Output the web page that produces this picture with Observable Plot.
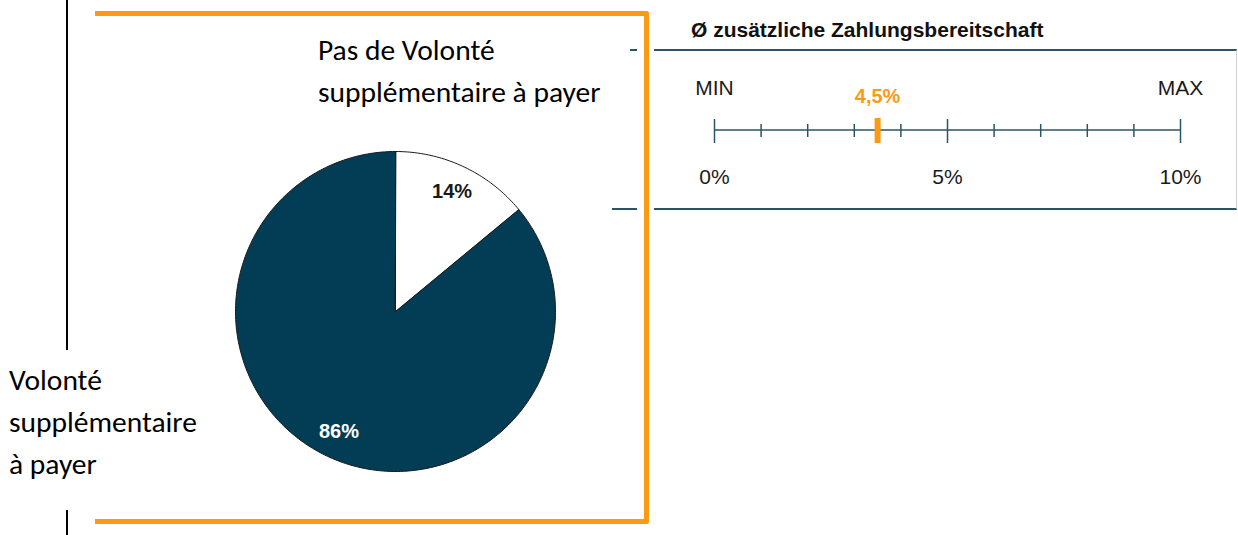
<!DOCTYPE html>
<html><head><meta charset="utf-8">
<script src="https://cdn.jsdelivr.net/npm/d3@7"></script>
<script src="https://cdn.jsdelivr.net/npm/@observablehq/plot@0.6"></script>
<style>
html,body{margin:0;padding:0;background:#fff;}
#root{position:relative;width:1238px;height:535px;overflow:hidden;background:#fff;}
.abs{position:absolute;}
.cal{font-family:Carlito,Calibri,Lato,"Open Sans",sans-serif;font-size:29.5px;color:#000;line-height:42px;white-space:nowrap;}
.arial{font-family:"Liberation Sans",Arial,sans-serif;}
</style></head><body><div id="root"></div>
<script>
// ---- data ----
const categories = ["Pas de Volonté supplémentaire à payer", "Volonté supplémentaire à payer"];
const shares = [14, 86];
const shareLabels = ["14%", "86%"];
const sliceColors = ["#ffffff", "#033d55"];
const labelColors = ["#1a1a1a", "#ffffff"];
const scaleTicks = [0, 1, 2, 3, 4, 5, 6, 7, 8, 9, 10];
const majorTicks = [0, 5, 10];
const tickLabels = ["0%", "5%", "10%"];
const endLabels = ["MIN", "MAX"];
const endValues = [0, 10];
const average = 3.5;
const averageLabel = "4,5%";
const title = "Ø zusätzliche Zahlungsbereitschaft";
const topLabelLines = ["Pas de Volonté", "supplémentaire à payer"];
const leftLabelLines = ["Volonté", "supplémentaire", "à payer"];

// ---- style ----
const orange = "#fd9a14";
const teal = "#2b5566";
const root = document.getElementById("root");
function div(cls, css, html) {
  const d = document.createElement("div");
  d.className = cls;
  d.style.cssText = css;
  if (html != null) d.innerHTML = html;
  root.appendChild(d);
  return d;
}

// decorations
div("abs", "left:66px;top:0;width:2px;height:350px;background:#000;");
div("abs", "left:66px;top:510px;width:2px;height:25px;background:#000;");
div("abs", `left:95px;top:11px;width:554px;height:513px;box-sizing:border-box;border:5px solid ${orange};border-left:none;border-radius:0 3px 3px 0;`);
div("abs", `left:654px;top:49px;width:583px;height:161px;box-sizing:border-box;border-top:2px solid ${teal};border-bottom:2px solid ${teal};border-right:1px solid #d4d4d4;`);
div("abs", `left:630px;top:49px;width:7px;height:2px;background:${teal};`);
div("abs", `left:612px;top:208px;width:25px;height:2px;background:${teal};`);
div("abs arial", "left:691px;top:19px;font-size:21px;font-weight:bold;color:#111;white-space:nowrap;line-height:21px;", title);
div("abs cal", "left:318px;top:29px;", topLabelLines.join("<br>"));
div("abs cal", "left:9px;top:359px;", leftLabelLines.join("<br>"));

// ---- pie ----
const arcs = d3.pie().sort(null)(shares);
const pts = [];
arcs.forEach((a, i) => {
  pts.push({slice: categories[i], fill: sliceColors[i], x: 0, y: 0});
  const n = Math.max(2, Math.ceil((a.endAngle - a.startAngle) / (Math.PI / 180)));
  for (let k = 0; k <= n; k++) {
    const t = a.startAngle + (a.endAngle - a.startAngle) * k / n;
    pts.push({slice: categories[i], fill: sliceColors[i], x: Math.sin(t), y: Math.cos(t)});
  }
});
const labelR = 0.83;
const labels = arcs.map((a, i) => {
  const m = (a.startAngle + a.endAngle) / 2;
  return {text: shareLabels[i], color: labelColors[i], x: labelR * Math.sin(m), y: labelR * Math.cos(m)};
});
const pie = Plot.plot({
  width: 324, height: 324, margin: 2,
  x: {domain: [-1, 1], axis: null},
  y: {domain: [-1, 1], axis: null},
  color: {type: "identity"},
  style: {background: "transparent", overflow: "visible", fontFamily: "'Liberation Sans', Arial, sans-serif"},
  marks: [
    Plot.line(pts, {x: "x", y: "y", z: "slice", fill: "fill", stroke: "#1a1a1a", strokeWidth: 1, curve: "linear-closed"}),
    Plot.text(labels, {x: "x", y: "y", text: "text", fill: "color", fontSize: 20, fontWeight: "bold"})
  ]
});
pie.style.cssText += "position:absolute;left:233px;top:149px;width:324px;height:324px;max-width:none;";
root.appendChild(pie);

// ---- scale ----
const scale = Plot.plot({
  width: 583, height: 159,
  marginLeft: 60, marginRight: 57, marginTop: 0, marginBottom: 0,
  x: {domain: [0, 10], axis: null},
  y: {domain: [-1, 1], axis: null},
  style: {background: "transparent", overflow: "visible", fontFamily: "'Liberation Sans', Arial, sans-serif"},
  marks: [
    Plot.ruleY([0], {x1: 0, x2: 10, stroke: teal, strokeWidth: 1.5}),
    Plot.tickX(scaleTicks.filter(d => !majorTicks.includes(d)), {x: d => d, stroke: teal, strokeWidth: 1.5, insetTop: 74, insetBottom: 72}),
    Plot.tickX(majorTicks, {x: d => d, stroke: teal, strokeWidth: 1.5, insetTop: 69, insetBottom: 66}),
    Plot.tickX([average], {x: d => d, stroke: orange, strokeWidth: 6, insetTop: 68, insetBottom: 66}),
    Plot.text(endLabels, {x: (d, i) => endValues[i], y: () => 0, text: d => d, dy: -42, fontSize: 21, fill: "#1a1a1a"}),
    Plot.text([averageLabel], {x: () => average, y: () => 0, text: d => d, dy: -33, fontSize: 20, fontWeight: "bold", fill: orange}),
    Plot.text(tickLabels, {x: (d, i) => majorTicks[i], y: () => 0, text: d => d, dy: 47, fontSize: 21, fill: "#1a1a1a"})
  ]
});
scale.style.cssText += "position:absolute;left:654px;top:50px;width:583px;height:159px;max-width:none;";
root.appendChild(scale);
</script>
</body></html>
